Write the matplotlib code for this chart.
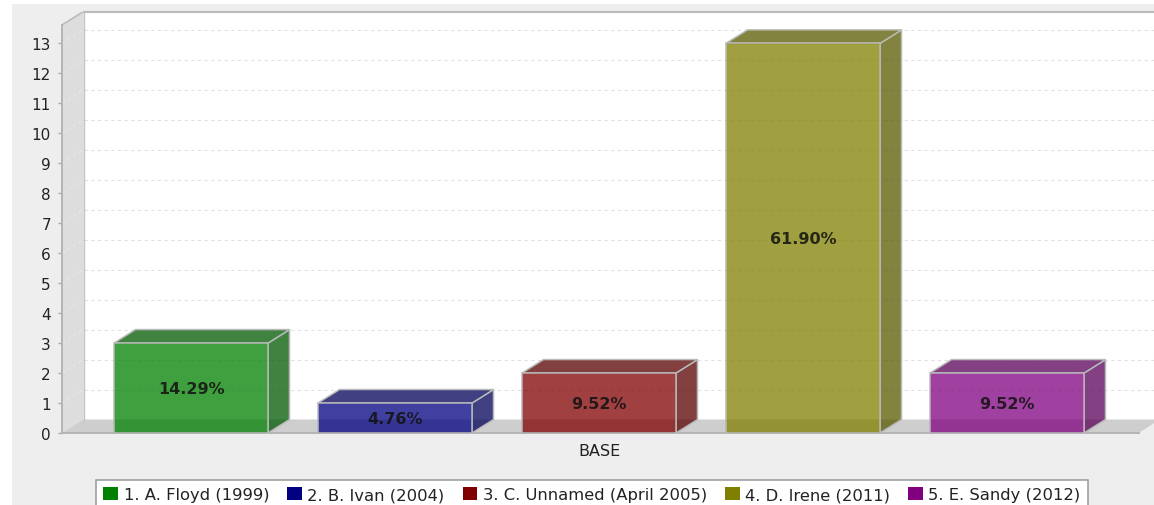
"""3D-look JFreeChart style bar chart: storm counts per series, single BASE category."""
import matplotlib
matplotlib.use("Agg")
import matplotlib.pyplot as plt
from matplotlib.colors import to_rgba
from matplotlib.patches import Patch, Polygon, Rectangle

W, H = 1154, 506

series = ["1. A. Floyd (1999)", "2. B. Ivan (2004)", "3. C. Unnamed (April 2005)",
          "4. D. Irene (2011)", "5. E. Sandy (2012)"]
counts = [3, 1, 2, 13, 2]
pct_labels = ["14.29%", "4.76%", "9.52%", "61.90%", "9.52%"]
colors = ["#008000", "#000080", "#800000", "#808000", "#800080"]
side_colors = ["#005900", "#000059", "#590000", "#595900", "#590059"]
category = "BASE"
y_ticks = list(range(14))

# pixel layout of the plot (right side runs past the figure edge, as in the reference)
PX_LEFT, PX_RIGHT = 62, 1160
PX_ZERO, PX_TOP = 434, 12.5
PX_PER_UNIT = 29.97
PX_PER_BAR = 204.0
PX_FIRST = 191.0
PX_BAR_W = 154.0
DEPTH_PX_X, DEPTH_PX_Y = 21.5, 13.5

DX = DEPTH_PX_X / PX_PER_BAR
DY = DEPTH_PX_Y / PX_PER_UNIT
BAR_W = PX_BAR_W / PX_PER_BAR
EDGE = "#b9b9b9"

fig = plt.figure(figsize=(W / 100, H / 100), dpi=100, facecolor="white")
fig.patches.append(Rectangle((12 / W, 0), 1 - 12 / W, 1 - 5 / H, transform=fig.transFigure,
                             facecolor="#eeeeee", edgecolor="none", figure=fig, zorder=-10))

ax = fig.add_axes([PX_LEFT / W, 1 - PX_ZERO / H, (PX_RIGHT - PX_LEFT) / W, (PX_ZERO - PX_TOP) / H])
ax.patch.set_alpha(0)
xmin = (PX_LEFT - PX_FIRST) / PX_PER_BAR
xmax = (PX_RIGHT - PX_FIRST) / PX_PER_BAR
ymax = (PX_ZERO - PX_TOP) / PX_PER_UNIT
ax.set_xlim(xmin, xmax)
ax.set_ylim(0, ymax)
for s in ax.spines.values():
    s.set_visible(False)

# back wall, left wall, floor
ax.add_patch(Polygon([(xmin + DX, DY), (xmax, DY), (xmax, ymax), (xmin + DX, ymax)],
                     facecolor="white", edgecolor="none", zorder=0))
ax.add_patch(Polygon([(xmin, 0), (xmin + DX, DY), (xmin + DX, ymax), (xmin, ymax - DY)],
                     facecolor="#dddddd", edgecolor="none", zorder=1))
ax.add_patch(Polygon([(xmin, 0), (xmax - DX, 0), (xmax, DY), (xmin + DX, DY)],
                     facecolor="#cecece", edgecolor="none", zorder=1))

# gridlines on back wall + the diagonal bit on the left wall
for v in y_ticks[1:]:
    ax.plot([xmin + DX, xmax], [v + DY, v + DY], color="#e0e0e0", lw=0.8, ls=(0, (3, 3)), zorder=2)
    ax.plot([xmin, xmin + DX], [v, v + DY], color="#e8e8e8", lw=0.8, ls=(0, (3, 3)), zorder=2)

# wall outlines
ax.plot([xmin + DX, xmax], [ymax, ymax], color="#bbbbbb", lw=1.6, zorder=3, clip_on=False)
ax.plot([xmin + DX, xmin + DX], [DY, ymax], color="#c4c4c4", lw=1.0, zorder=3)
ax.plot([xmin, xmin + DX], [ymax - DY, ymax], color="#bbbbbb", lw=1.2, zorder=3)
ax.plot([xmin, xmin], [0, ymax - DY], color="#b4b4b4", lw=1.4, zorder=3, clip_on=False)
ax.plot([xmin, xmax - DX], [0, 0], color="#b4b4b4", lw=1.4, zorder=3, clip_on=False)

# bars: side and top faces, then front
for i, v in enumerate(counts):
    l, r = i - BAR_W / 2, i + BAR_W / 2
    ax.add_patch(Polygon([(r, 0), (r + DX, DY), (r + DX, v + DY), (r, v)],
                         facecolor=to_rgba(side_colors[i], 0.75), edgecolor=EDGE, lw=1.1, zorder=4))
    ax.add_patch(Polygon([(l, v), (l + DX, v + DY), (r + DX, v + DY), (r, v)],
                         facecolor=to_rgba(side_colors[i], 0.75), edgecolor=EDGE, lw=1.1, zorder=4))
ax.bar(range(len(counts)), counts, width=BAR_W,
       color=[to_rgba(c, 0.75) for c in colors], edgecolor=EDGE, linewidth=1.1, zorder=5)

for i, v in enumerate(counts):
    ax.text(i, v / 2, pct_labels[i], ha="center", va="center", fontsize=11.5,
            fontweight="bold", color="#111111", alpha=0.85, zorder=6)

ax.set_yticks(y_ticks)
ax.tick_params(axis="y", length=3, width=1.0, color="#aaaaaa", pad=5, labelsize=11, labelcolor="#222222")
ax.set_xticks([2])
ax.set_xticklabels([category], fontsize=11.5, color="#222222")
ax.tick_params(axis="x", length=0, pad=7)

handles = [Patch(facecolor=c, edgecolor="none", label=s) for c, s in zip(colors, series)]
leg = ax.legend(handles=handles, loc="upper center", bbox_to_anchor=(592 / W, 1 - 481 / H),
                bbox_transform=fig.transFigure, ncol=5, frameon=True, fancybox=False,
                edgecolor="#999999", facecolor="white", framealpha=1, fontsize=11.8,
                handlelength=0.9, handleheight=0.85, handletextpad=0.33, columnspacing=1.1,
                borderpad=0.42, borderaxespad=0)
leg.get_frame().set_linewidth(1.1)
for t in leg.get_texts():
    t.set_color("#222222")

fig.savefig("out.png", dpi=100)
